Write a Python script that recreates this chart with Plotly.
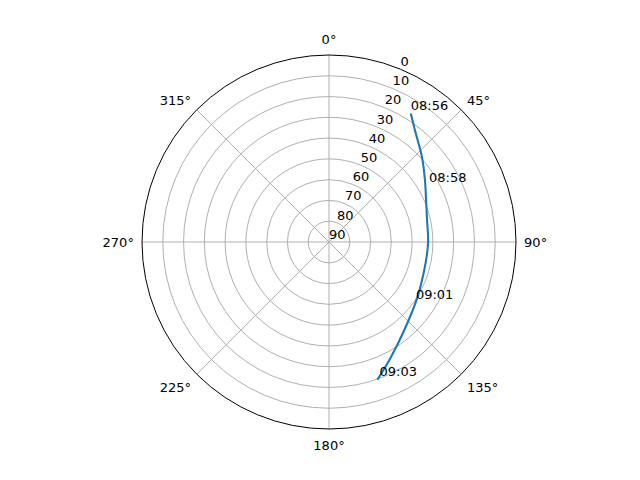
import plotly.graph_objects as go

# Satellite track (azimuth in degrees, elevation in degrees)
track_az = [32.5, 37.4, 47.6, 57.3, 66.9, 77.8, 90.0, 103.2, 122.6, 140.4, 152.5, 160.6]
track_el = [16.7, 22.0, 29.4, 35.1, 39.2, 41.7, 42.3, 42.4, 39.7, 33.8, 26.5, 19.8]

# Time labels along the track
label_text = ["08:56", "08:58", "09:01", "09:03"]
label_az = [32.5, 60.5, 124.9, 159.8]
label_el = [16.7, 34.7, 39.0, 19.5]

radial_ticks = [0, 10, 20, 30, 40, 50, 60, 70, 80, 90]
radial_label_az = 22.5
angular_ticks = [0, 45, 90, 135, 180, 225, 270, 315]

fig = go.Figure()
fig.add_trace(go.Scatterpolar(
    r=track_el, theta=track_az, mode="lines",
    line=dict(color="#1f77b4", width=2.1, shape="spline"),
    showlegend=False, hoverinfo="skip",
))
fig.add_trace(go.Scatterpolar(
    r=label_el, theta=label_az, mode="text", text=label_text,
    textposition="top right",
    textfont=dict(family="DejaVu Sans", size=13, color="black"),
    showlegend=False, hoverinfo="skip",
))
# radial tick labels, drawn horizontally along the 22.5° line
fig.add_trace(go.Scatterpolar(
    r=radial_ticks, theta=[radial_label_az] * len(radial_ticks),
    mode="text", text=[str(t) for t in radial_ticks],
    textposition="top right",
    textfont=dict(family="DejaVu Sans", size=13, color="black"),
    showlegend=False, hoverinfo="skip", cliponaxis=False,
))

fig.update_layout(
    width=640, height=480,
    paper_bgcolor="white",
    margin=dict(l=134, r=132, t=47, b=59),
    font=dict(family="DejaVu Sans", size=13, color="black"),
    polar=dict(
        bgcolor="white",
        domain=dict(x=[0, 1], y=[0, 1]),
        angularaxis=dict(
            rotation=90, direction="clockwise",
            tickmode="array", tickvals=angular_ticks,
            ticktext=[f"{a}°" for a in angular_ticks],
            showline=True, linecolor="black", linewidth=1,
            showgrid=True, gridcolor="#b0b0b0", gridwidth=0.8,
            ticks="outside", ticklen=5, tickcolor="rgba(0,0,0,0)",
            tickfont=dict(size=13),
        ),
        radialaxis=dict(
            range=[90, 0], angle=67.5,
            tickmode="array", tickvals=radial_ticks,
            showticklabels=False,
            showline=False, ticks="",
            showgrid=True, gridcolor="#b0b0b0", gridwidth=0.8,
        ),
    ),
)

fig.write_html("out.html")
